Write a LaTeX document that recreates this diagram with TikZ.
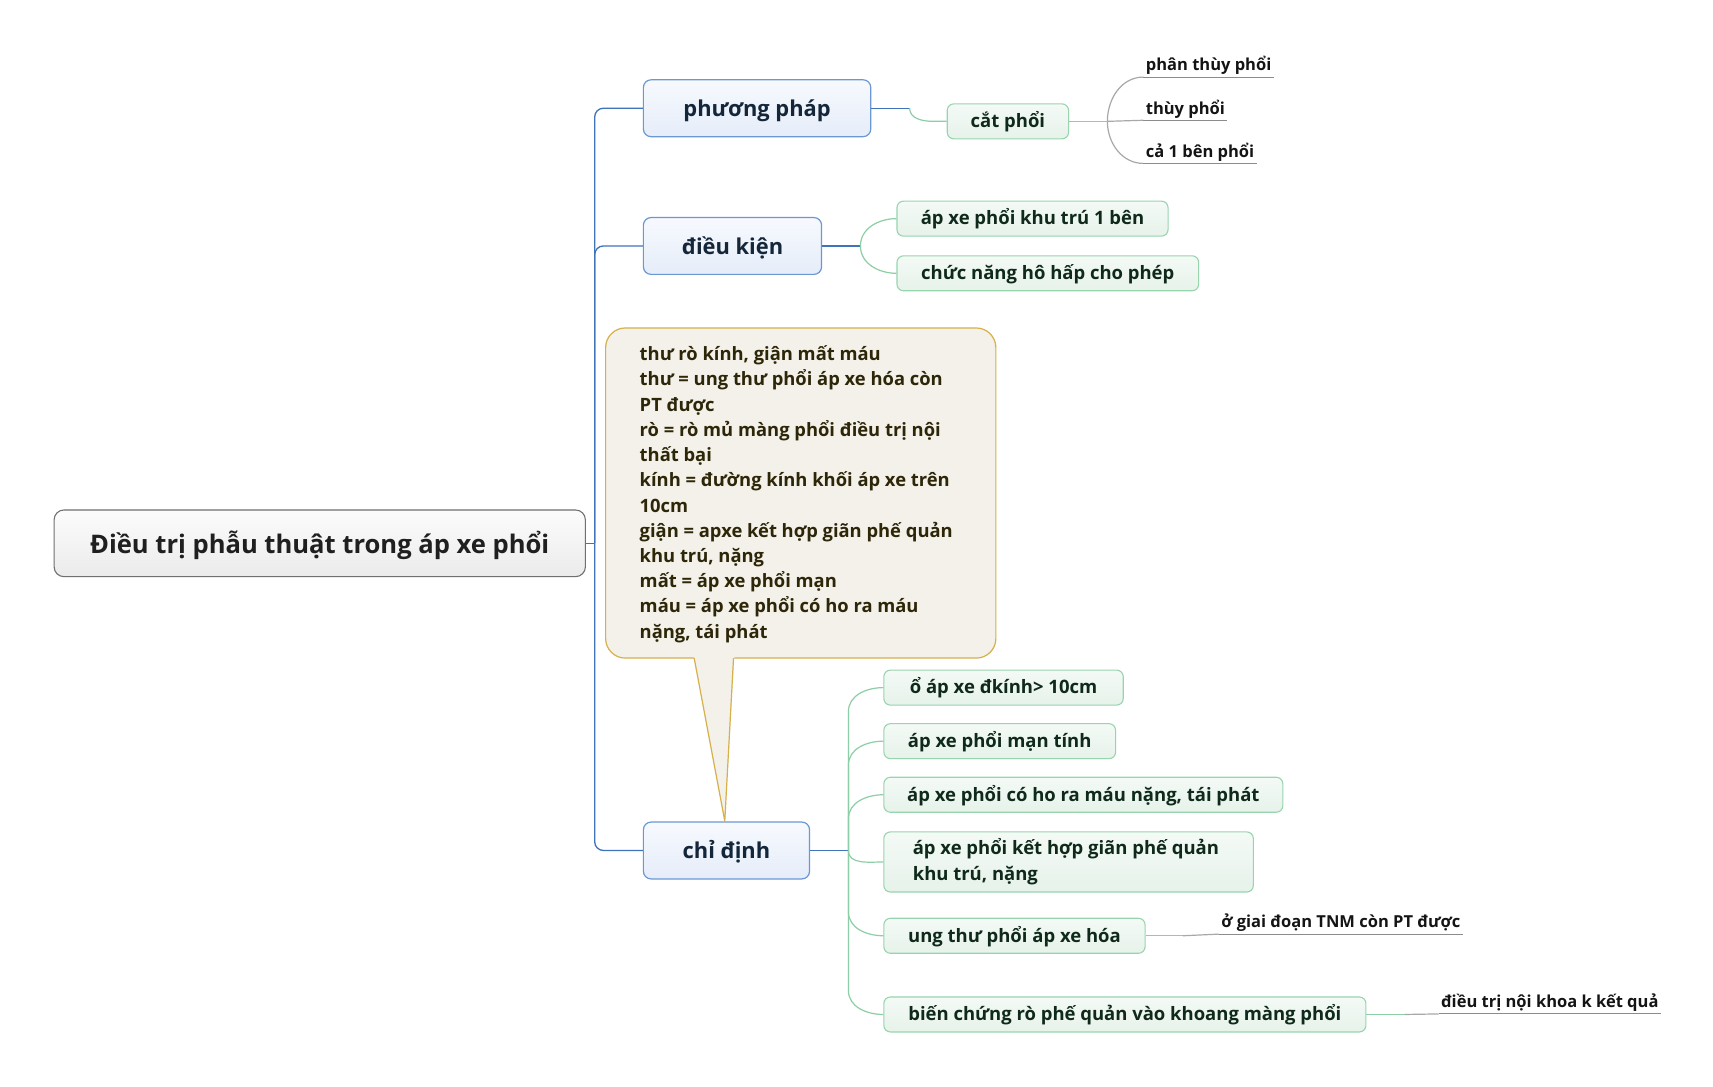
\documentclass[tikz,border=0pt]{standalone}
\usepackage{fontspec}
\setmainfont{Open Sans}
\usetikzlibrary{calc}
\definecolor{trunkc}{HTML}{3F74BA}
\definecolor{oneb}{HTML}{6B98D4}
\definecolor{onetop}{HTML}{F7F9FE}
\definecolor{onebot}{HTML}{E5EDF9}
\definecolor{onetext}{HTML}{14273A}
\definecolor{grnb}{HTML}{98D5AF}
\definecolor{grntop}{HTML}{F4FAF6}
\definecolor{grnbot}{HTML}{E6F2EA}
\definecolor{grntext}{HTML}{0F2A1A}
\definecolor{grnc}{HTML}{8CCEA5}
\definecolor{leafc}{HTML}{A8A8A8}
\definecolor{rootb}{HTML}{707070}
\definecolor{roottop}{HTML}{FCFCFC}
\definecolor{rootbot}{HTML}{EBEBEB}
\definecolor{notec}{HTML}{D6B04A}
\definecolor{notefill}{HTML}{F3F1E9}
\definecolor{notetext}{HTML}{2D2608}
\begin{document}
\begin{tikzpicture}[x=1pt,y=-1pt,
  rootbox/.style={draw=rootb, top color=roottop, bottom color=rootbot, rounded corners=9, line width=1pt,
     inner sep=0, minimum height=61, font=\fontsize{23.4}{28}\selectfont\bfseries, text=black!88,
     text height=20pt, text depth=2pt},
  onebox/.style={draw=oneb, top color=onetop, bottom color=onebot, rounded corners=7, line width=1.1pt,
     inner sep=0, minimum height=52, font=\fontsize{20}{24}\selectfont\bfseries, text=onetext,
     text height=18.5pt, text depth=3.5pt},
  grnbox/.style={draw=grnb, top color=grntop, bottom color=grnbot, rounded corners=6, line width=1pt,
     inner sep=0, minimum height=32, font=\fontsize{16.9}{23}\selectfont\bfseries, text=grntext,
     text height=13.5pt, text depth=2pt},
  leaf/.style={inner xsep=2, inner ysep=0, font=\fontsize{15.1}{18}\selectfont\bfseries, text=black!92,
     text height=12pt, text depth=5.5pt},
  bluec/.style={draw=trunkc, line width=1.2pt},
  greenc/.style={draw=grnc, line width=1.1pt},
  grayc/.style={draw=leafc, line width=1.1pt},
  uline/.style={draw=black!45, line width=0.9pt}]
\useasboundingbox (0,0) rectangle (1567,994);
\fill[white] (0,0) rectangle (1567,994);

% root and level one
\node[rootbox, minimum width=486, anchor=west] (root) at (49,497) {Điều trị phẫu thuật trong áp xe phổi};
\node[onebox, minimum width=208, anchor=west] (pp) at (588,99) {phương pháp};
\node[onebox, minimum width=163, anchor=west] (dk) at (588,225) {điều kiện};
\node[onebox, minimum width=152, anchor=west] (cd) at (588,778) {chỉ định};

\coordinate (trunk) at ($(root.east)+(8,0)$);
\draw[bluec] (root.east) -- (trunk);
\draw[bluec, rounded corners=8] (trunk) |- (pp.west);
\draw[bluec, rounded corners=8] (trunk) |- (dk.west);
\draw[bluec, rounded corners=8] (trunk) |- (cd.west);

% callout note
\fill[notefill, draw=notec, line width=1.1pt, rounded corners=18] (554,300) rectangle (911,602);
\fill[notefill] (634,597) -- (672,597) -- (663,751) -- cycle;
\draw[notec, line width=1.1pt, line join=round] (635,602) -- (663,751) -- (671,602);
\node[anchor=base west, inner sep=0, font=\fontsize{16.8}{23.07}\selectfont\bfseries, text=notetext] (note) at (585,330)
{\parbox[t]{320pt}{\raggedright thư rò kính, giận mất máu\\
thư = ung thư phổi áp xe hóa còn\\
PT được\\
rò = rò mủ màng phổi điều trị nội\\
thất bại\\
kính = đường kính khối áp xe trên\\
10cm\\
giận = apxe kết hợp giãn phế quản\\
khu trú, nặng\\
mất = áp xe phổi mạn\\
máu = áp xe phổi có ho ra máu\\
nặng, tái phát}};

% phuong phap branch
\node[grnbox, minimum width=111, anchor=west] (cp) at (866,111) {cắt phổi};
\coordinate (ppj) at ($(pp.east)+(35,0)$);
\draw[bluec] (pp.east) -- (ppj);
\draw[greenc] (ppj) to[out=-90,in=180] ($(cp.west)+(-12,0)$) -- (cp.west);

\node[leaf, anchor=south west] (l1) at (1046,70.5) {phân thùy phổi};
\node[leaf, anchor=south west] (l2) at (1046,110) {thùy phổi};
\node[leaf, anchor=south west] (l3) at (1046,149.5) {cả 1 bên phổi};
\coordinate (cpj) at ($(cp.east)+(35,0)$);
\draw[greenc] (cp.east) -- (cpj);
\draw[grayc] (cpj) to[out=90,in=180] (l1.south west);
\draw[grayc] (cpj) -- (l2.south west);
\draw[grayc] (cpj) to[out=-90,in=180] (l3.south west);
\draw[uline] (l1.south west) -- (l1.south east);
\draw[uline] (l2.south west) -- (l2.south east);
\draw[uline] (l3.south west) -- (l3.south east);

% dieu kien branch
\node[grnbox, minimum width=248, anchor=west] (c1) at (820,200) {áp xe phổi khu trú 1 bên};
\node[grnbox, minimum width=276, anchor=west] (c2) at (820,250) {chức năng hô hấp cho phép};
\coordinate (dkj) at ($(dk.east)+(35,0)$);
\draw[bluec] (dk.east) -- (dkj);
\draw[greenc] (dkj) to[out=90,in=180] (c1.west);
\draw[greenc] (dkj) to[out=-90,in=180] (c2.west);

% chi dinh branch
\node[grnbox, minimum width=219, anchor=west] (k1) at (808,629) {ổ áp xe đkính> 10cm};
\node[grnbox, minimum width=212, anchor=west] (k2) at (808,678) {áp xe phổi mạn tính};
\node[grnbox, minimum width=365, anchor=west] (k3) at (808,727) {áp xe phổi có ho ra máu nặng, tái phát};
\node[grnbox, minimum width=338, minimum height=55, anchor=west, text height=13.5pt, text depth=26.4pt] (k4) at (808,788.5)
  {\parbox[t]{285pt}{\baselineskip=23pt\raggedright áp xe phổi kết hợp giãn phế quản\\khu trú, nặng}};
\node[grnbox, minimum width=239, anchor=west] (k5) at (808,856) {ung thư phổi áp xe hóa};
\node[grnbox, minimum width=441, anchor=west] (k6) at (808,928) {biến chứng rò phế quản vào khoang màng phổi};
\coordinate (cdj) at ($(cd.east)+(35,0)$);
\draw[bluec] (cd.east) -- (cdj);
\draw[greenc] (cdj) -- ($(cdj|-k1.west)+(0,22)$) to[out=90,in=180] (k1.west);
\draw[greenc] (cdj) -- ($(cdj|-k2.west)+(0,22)$) to[out=90,in=180] (k2.west);
\draw[greenc] (cdj) -- ($(cdj|-k3.west)+(0,22)$) to[out=90,in=180] (k3.west);
\draw[greenc] (cdj) to[out=-90,in=180] (k4.west);
\draw[greenc] (cdj) -- ($(cdj|-k5.west)+(0,-22)$) to[out=-90,in=180] (k5.west);
\draw[greenc] (cdj) -- ($(cdj|-k6.west)+(0,-22)$) to[out=-90,in=180] (k6.west);

\node[leaf, anchor=south west] (m1) at (1115,854.5) {ở giai đoạn TNM còn PT được};
\node[leaf, anchor=south west] (m2) at (1316,927.5) {điều trị nội khoa k kết quả};
\draw[greenc] (k5.east) -- ++(34,0) coordinate (k5a);
\draw[grayc] (k5a) -- (m1.south west);
\draw[uline] (m1.south west) -- (m1.south east);
\draw[greenc] (k6.east) -- ++(35,0) coordinate (k6a);
\draw[grayc] (k6a) -- (m2.south west);
\draw[uline] (m2.south west) -- (m2.south east);
\end{tikzpicture}
\end{document}
